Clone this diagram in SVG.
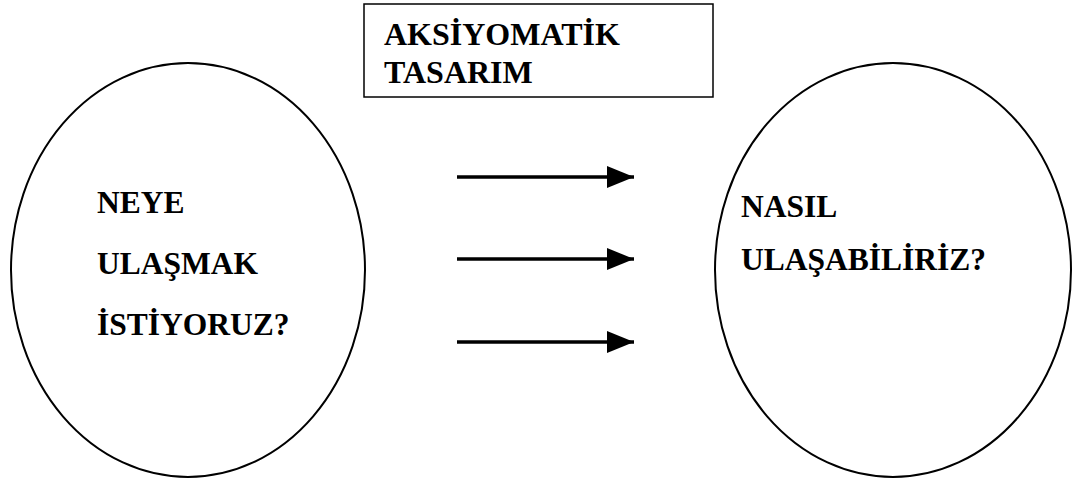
<svg xmlns="http://www.w3.org/2000/svg" width="1075" height="482" viewBox="0 0 1075 482">
<style>
.shape{fill:#fff;stroke:#000;stroke-width:2}
.lbl{font-family:"Liberation Serif","Times New Roman",serif;font-weight:bold;font-size:31.5px;fill:#000}
.conn{stroke:#000;stroke-width:3.5;fill:none}
</style>
<defs>
<marker id="ah" markerUnits="userSpaceOnUse" markerWidth="28" markerHeight="24" refX="27" refY="12" orient="auto">
<path d="M0,1 L27,12 L0,23 z" fill="#000"/>
</marker>
</defs>
<rect width="1075" height="482" fill="#fff"/>
<g id="box">
<rect x="364" y="4" width="349" height="93" fill="#fff" stroke="#000" stroke-width="1.5"/>
<text class="lbl" x="384" y="45" style="font-size:32px">AKSİYOMATİK</text>
<text class="lbl" x="384" y="83" style="font-size:32px">TASARIM</text>
</g>
<g id="left">
<ellipse class="shape" cx="188" cy="270" rx="177" ry="207"/>
<text class="lbl" x="97" y="213">NEYE</text>
<text class="lbl" x="97" y="274">ULAŞMAK</text>
<text class="lbl" x="97" y="335">İSTİYORUZ?</text>
</g>
<g id="right">
<ellipse class="shape" cx="893" cy="270" rx="178" ry="207"/>
<text class="lbl" x="741" y="217">NASIL</text>
<text class="lbl" x="741" y="270">ULAŞABİLİRİZ?</text>
</g>
<g id="connectors">
<line class="conn" x1="457" y1="177" x2="634" y2="177" marker-end="url(#ah)"/>
<line class="conn" x1="457" y1="259" x2="634" y2="259" marker-end="url(#ah)"/>
<line class="conn" x1="457" y1="342" x2="634" y2="342" marker-end="url(#ah)"/>
</g>
</svg>
